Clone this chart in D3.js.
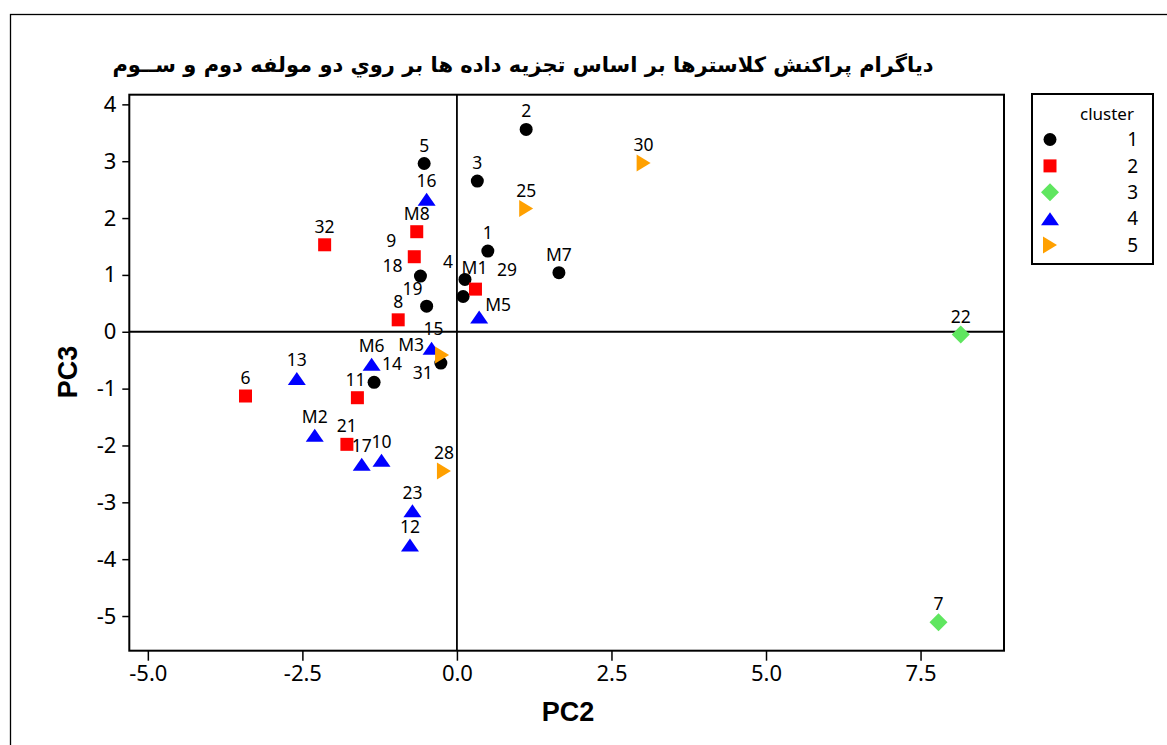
<!DOCTYPE html>
<html>
<head>
<meta charset="utf-8">
<script src="https://cdnjs.cloudflare.com/ajax/libs/d3/7.8.5/d3.min.js"></script>
<style>
  body { margin: 0; background: #fff; }
  svg { display: block; }
</style>
</head>
<body>
<svg id="scatter" width="1167" height="745"></svg>
<script>
// sample names, PC2 (x), PC3 (y) and cluster
var pointNames = ["1", "2", "3", "4", "5", "6", "7", "8", "9", "10",
                  "11", "12", "13", "14", "15", "16", "17", "18", "19", "21",
                  "22", "23", "25", "28", "29", "30", "31", "32",
                  "M1", "M2", "M3", "M5", "M6", "M7", "M8"];
var pc2Values = [0.50, 1.12, 0.33, 0.13, -0.53, -3.42, 7.79, -0.95, -0.69, -1.22,
                 -1.61, -0.76, -2.59, -1.34, -0.41, -0.49, -1.54, -0.59, -0.49, -1.78,
                 8.15, -0.72, 1.12, -0.21, 0.10, 3.02, -0.26, -2.14,
                 0.30, -2.30, -0.24, 0.36, -1.38, 1.65, -0.65];
var pc3Values = [1.42, 3.56, 2.65, 0.92, 2.96, -1.13, -5.11, 0.21, 1.32, -2.26,
                 -1.16, -3.75, -0.82, -0.89, -0.29, 2.33, -2.33, 0.98, 0.45, -1.98,
                 -0.05, -3.15, 2.17, -2.45, 0.62, 2.97, -0.55, 1.53,
                 0.75, -1.82, -0.41, 0.26, -0.57, 1.04, 1.76];
var clusterIds = [1, 1, 1, 1, 1, 2, 3, 2, 2, 4,
                  2, 4, 4, 1, 4, 4, 4, 1, 1, 2,
                  3, 4, 5, 5, 1, 5, 1, 2,
                  2, 4, 5, 4, 4, 1, 2];

var clusters = [1, 2, 3, 4, 5];
var xTicks = [-5.0, -2.5, 0.0, 2.5, 5.0, 7.5];
var yTicks = [-5, -4, -3, -2, -1, 0, 1, 2, 3, 4];

var titleText = "دياگرام پراكنش کلاسترها بر اساس تجزيه داده ها بر روي دو مولفه دوم و ســوم";

var data = pointNames.map(function(n, i) {
  return {name: n, pc2: pc2Values[i], pc3: pc3Values[i], cluster: clusterIds[i]};
});

// where Minitab pushed a label away from its default spot above the marker (px)
var labelShift = {
  "4": [-17, -18], "9": [-23, -16], "18": [-28, -10], "19": [-14, -17],
  "29": [44, -27], "M1": [-1, -21], "M5": [19, -12], "14": [18, -18],
  "11": [-2, -18], "M3": [-31, -10], "31": [-18, 10], "15": [2, -19]
};

var svg = d3.select("#scatter"),
    margin = {top: 94.7, left: 129.3},
    width = 1004 - 129.3,
    height = 650.7 - 94.7;

var x = d3.scaleLinear().domain([-5.30, 8.85]).range([0, width]),
    y = d3.scaleLinear().domain([-5.61, 4.17]).range([height, 0]);

var color = d3.scaleOrdinal().domain(clusters)
    .range(["#000000", "#ff0000", "#5fe65f", "#0000ff", "#ffa000"]);

function markerPath(c) {
  if (c === 1) return "M6.5,0A6.5,6.5 0 1,1 -6.5,0A6.5,6.5 0 1,1 6.5,0Z";
  if (c === 2) return "M-6.5,-6.5H6.5V6.5H-6.5Z";
  if (c === 3) return "M0,-9L9,0L0,9L-9,0Z";
  if (c === 4) return "M0,-6.5L9,6.5L-9,6.5Z";
  return "M-7,-8.5L7,0L-7,8.5Z";
}

// outer frame of the graph window
svg.append("rect")
    .attr("x", 10.5).attr("y", 14.5)
    .attr("width", 1200).attr("height", 800)
    .attr("fill", "none")
    .attr("stroke", "#000")
    .attr("stroke-width", 1.3);

svg.append("text")
    .attr("x", 523)
    .attr("y", 65)
    .attr("text-anchor", "middle")
    .attr("dominant-baseline", "central")
    .attr("font-family", "DejaVu Sans")
    .attr("font-weight", "bold")
    .attr("font-size", 21)
    .text(titleText);

var g = svg.append("g")
    .attr("transform", "translate(" + margin.left + "," + margin.top + ")");

var xAxis = g.append("g")
    .attr("transform", "translate(0," + height + ")")
    .call(d3.axisBottom(x).tickValues(xTicks).tickSize(10).tickPadding(5)
      .tickFormat(function(d) { return d.toFixed(1); }));

var yAxis = g.append("g")
    .call(d3.axisLeft(y).tickValues(yTicks).tickSize(7).tickPadding(6)
      .tickFormat(function(d) { return String(d); }));

[xAxis, yAxis].forEach(function(a) {
  a.select(".domain").remove();
  a.selectAll(".tick line").attr("stroke", "#000").attr("stroke-width", 1.5);
  a.selectAll(".tick text")
      .attr("fill", "#000")
      .attr("font-family", "Noto Sans")
      .attr("font-size", 22);
});

g.append("rect")
    .attr("width", width)
    .attr("height", height)
    .attr("fill", "none")
    .attr("stroke", "#000")
    .attr("stroke-width", 2);

// reference lines through the origin
g.append("line")
    .attr("x1", x(0)).attr("x2", x(0))
    .attr("y1", 0).attr("y2", height)
    .attr("stroke", "#000").attr("stroke-width", 1.8);
g.append("line")
    .attr("x1", 0).attr("x2", width)
    .attr("y1", y(0)).attr("y2", y(0))
    .attr("stroke", "#000").attr("stroke-width", 1.8);

g.selectAll(".pt")
  .data(data)
  .enter().append("path")
    .attr("class", "pt")
    .attr("transform", function(d) { return "translate(" + x(d.pc2) + "," + y(d.pc3) + ")"; })
    .attr("d", function(d) { return markerPath(d.cluster); })
    .attr("fill", function(d) { return color(d.cluster); });

g.selectAll(".ptLabel")
  .data(data)
  .enter().append("text")
    .attr("class", "ptLabel")
    .attr("x", function(d) { return x(d.pc2) + (labelShift[d.name] ? labelShift[d.name][0] : 0); })
    .attr("y", function(d) { return y(d.pc3) + (labelShift[d.name] ? labelShift[d.name][1] : -18); })
    .attr("dy", "0.35em")
    .attr("text-anchor", "middle")
    .attr("font-family", "Noto Sans")
    .attr("font-size", 17.5)
    .attr("fill", "#000")
    .text(function(d) { return d.name; });

// axis titles
svg.append("text")
    .attr("x", 568)
    .attr("y", 712)
    .attr("text-anchor", "middle")
    .attr("dominant-baseline", "central")
    .attr("font-family", "'Liberation Sans Narrow', 'Liberation Sans'")
    .attr("font-weight", "bold")
    .attr("font-size", 27)
    .text("PC2");

svg.append("text")
    .attr("transform", "translate(68,372) rotate(-90)")
    .attr("text-anchor", "middle")
    .attr("dominant-baseline", "central")
    .attr("font-family", "'Liberation Sans Narrow', 'Liberation Sans'")
    .attr("font-weight", "bold")
    .attr("font-size", 27)
    .text("PC3");

// legend
var legend = svg.append("g").attr("transform", "translate(1032,94)");

legend.append("rect")
    .attr("width", 121)
    .attr("height", 170)
    .attr("fill", "#fff")
    .attr("stroke", "#000")
    .attr("stroke-width", 2);

legend.append("text")
    .attr("x", 75)
    .attr("y", 20)
    .attr("dy", "0.35em")
    .attr("text-anchor", "middle")
    .attr("font-family", "Noto Sans")
    .attr("font-size", 17)
    .text("cluster");

var rows = legend.selectAll(".legRow")
  .data(clusters)
  .enter().append("g")
    .attr("class", "legRow")
    .attr("transform", function(d, i) { return "translate(0," + (45.5 + i * 26.4) + ")"; });

rows.append("path")
    .attr("transform", "translate(18,0)")
    .attr("d", function(d) { return markerPath(d); })
    .attr("fill", function(d) { return color(d); });

rows.append("text")
    .attr("x", 106)
    .attr("dy", "0.35em")
    .attr("text-anchor", "end")
    .attr("font-family", "Noto Sans")
    .attr("font-size", 19)
    .text(function(d) { return d; });
</script>
</body>
</html>
